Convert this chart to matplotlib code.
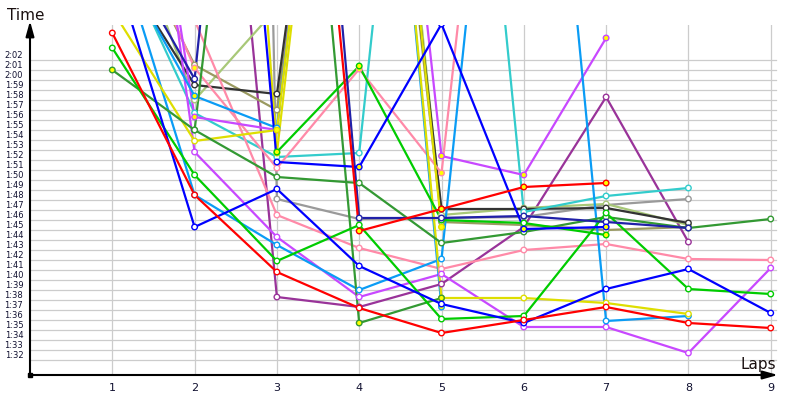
import numpy as np
import matplotlib
matplotlib.use("Agg")
import matplotlib.pyplot as plt

laps = [1, 2, 3, 4, 5, 6, 7, 8, 9]
N = None

# lap times in seconds (values above ~125 s run off the top of the chart)
red1 = [124.7, 108.5, 100.8, 97.2, 94.7, 96.0, 97.3, 95.7, 95.2]
red2 = [N, N, 189, 104.9, 107.1, 109.3, 109.7, N, N]
green1 = [123.2, 110.5, 101.9, 105.5, 96.1, 96.4, 106.7, 99.1, 98.6]
green2 = [N, N, 112.8, 121.4, 106.0, 105.7, 104.5, N, N]
forest1 = [121.0, 115.0, 110.3, 109.7, 103.7, 104.8, 106.3, 105.2, 106.1]
forest2 = [N, 115.0, 185, 95.7, 98.2, N, N, N, N]
yellow1 = [127.0, 113.9, 115.0, 185, 98.2, 98.2, 97.7, 96.6, N]
yellow2 = [N, 227, 112.7, 185, 105.3, N, N, N, N]
blue1 = [132.0, 105.3, 109.1, 101.4, 97.6, 95.7, 99.1, 101.1, 96.7]
blue2 = [N, 204, 111.8, 111.3, 125.6, 105.1, 105.3, N, N]
navy = [134.6, 120.1, 200, 106.2, 106.2, 106.4, 105.8, 105.2, N]
dodger1 = [135.0, 108.5, 103.5, 99.0, 102.1, 181, 95.9, 96.4, N]
dodger2 = [133.2, 118.4, 115.2, 185, 97.3, N, N, N, N]
turquoise = [134.4, 116.7, 112.3, 112.7, 190, 106.8, 108.4, 109.2, N]
darkgrey = [132.5, 119.5, 118.6, 179, 107.1, 107.1, 107.2, 105.7, N]
grey = [N, 500, 108.1, 106.1, 106.2, 106.3, 107.5, 108.1, N]
khaki = [138.0, 121.5, 117.0, 180, 105.8, 105.5, 105.0, 105.3, N]
lightolive = [140.0, 118.0, 127.2, 185, 106.5, 107.2, 107.6, 105.5, N]
pink1 = [160.0, 126.0, 106.5, 103.2, 101.1, 103.0, 103.6, 102.1, 102.0]
pink2 = [140.0, 121.2, 111.2, 121.1, 110.7, 185, N, N, N]
violet1 = [172.7, 112.8, 104.3, 98.3, 100.6, 95.3, 95.3, 92.7, 101.2]
violet2 = [168.8, 116.3, 115.0, 188, 112.4, 110.5, 124.2, N, N]
purple = [N, 184, 98.3, 97.3, 99.6, 105.3, 118.3, 103.8, N]

# laps whose marker is filled yellow
red2_filled = [4, 5, 6, 7]
green2_filled = [3, 4, 7]
forest1_filled = [1, 2]
forest2_filled = [4, 5]
yellow1_filled = [3]
yellow2_filled = [3, 5]
blue2_filled = [4, 6, 7]
dodger2_filled = [2, 5]
pink2_filled = [2, 4, 5]
violet2_filled = [2, 5, 6, 7]

y_tick_values = list(range(92, 123))

series = [
    (purple, "#993399", []),
    (grey, "#9a9a9a", []),
    (lightolive, "#a8c878", []),
    (khaki, "#9a9a60", []),
    (darkgrey, "#333333", []),
    (turquoise, "#33cccc", []),
    (pink1, "#ff8aa8", []),
    (pink2, "#ff8aa8", pink2_filled),
    (violet1, "#c848ff", []),
    (violet2, "#c848ff", violet2_filled),
    (dodger1, "#0a9cf5", []),
    (dodger2, "#0a9cf5", dodger2_filled),
    (yellow1, "#dede00", yellow1_filled),
    (yellow2, "#dede00", yellow2_filled),
    (forest1, "#339933", forest1_filled),
    (forest2, "#339933", forest2_filled),
    (green1, "#00cc00", []),
    (green2, "#00cc00", green2_filled),
    (navy, "#2020a8", []),
    (blue1, "#0000ff", []),
    (blue2, "#0000ff", blue2_filled),
    (red1, "#ff0000", []),
    (red2, "#ff0000", red2_filled),
]

W, H = 800, 400
fig = plt.figure(figsize=(8, 4), dpi=100)
L, R, B, T = 30, 781, 375, 25
ax = fig.add_axes([L / W, 1 - B / H, (R - L) / W, (B - T) / H])
xmax = (R - L) / 82.3
ymin = 122 - (B - 60) / 10
ymax = 122 + (60 - T) / 10
ax.set_xlim(0, xmax)
ax.set_ylim(ymin, ymax)
for s in ax.spines.values():
    s.set_visible(False)
ax.set_xticks([])
ax.set_yticks([])

# grid
for v in y_tick_values:
    ax.plot([0, 9.06], [v, v], color="#cccccc", lw=0.9, zorder=0)
for lp in laps:
    ax.plot([lp, lp], [ymin, ymax], color="#cccccc", lw=0.9, zorder=0)

for vals, col, filled in series:
    y = np.array([np.nan if v is None else v for v in vals], dtype=float)
    x = np.array(laps, dtype=float)
    ax.plot(x, y, color=col, lw=1.6, zorder=2)
    fc = ["#ffff00" if lp in filled else "white" for lp in laps]
    m = ~np.isnan(y)
    ax.scatter(x[m], y[m], s=16, facecolors=np.array(fc)[m], edgecolors=col,
               linewidths=1.0, zorder=3)

# tick labels
ytr = ax.get_yaxis_transform()
for v in y_tick_values:
    ax.text(-0.009, v + 0.5, f"{v // 60}:{v % 60:02d}", transform=ytr,
            ha="right", va="center", fontsize=6, color="#101030", clip_on=False)
xtr = ax.get_xaxis_transform()
for lp in laps:
    ax.text(lp, -13 / (B - T), str(lp), transform=xtr, ha="center", va="center",
            fontsize=8, color="#101030", clip_on=False)

# axes with arrows
ap = dict(arrowstyle="-|>,head_length=0.9,head_width=0.25", color="black",
          lw=1.5, mutation_scale=10, shrinkA=0, shrinkB=0)
ax.annotate("", xy=(L / W, 1 - 21 / H), xytext=(L / W, 1 - B / H),
            xycoords="figure fraction", textcoords="figure fraction", arrowprops=ap)
ax.annotate("", xy=(778 / W, 1 - B / H), xytext=(L / W, 1 - B / H),
            xycoords="figure fraction", textcoords="figure fraction", arrowprops=ap)
fig.add_artist(plt.Line2D([L / W], [1 - B / H], marker="s", markersize=3,
                          color="black", transform=fig.transFigure))

fig.text(7 / W, 1 - 15 / H, "Time", fontsize=11, ha="left", va="center", color="#1a1010")
fig.text(776 / W, 1 - 364 / H, "Laps", fontsize=11, ha="right", va="center", color="#1a1010")

fig.savefig("out.png", dpi=100)
